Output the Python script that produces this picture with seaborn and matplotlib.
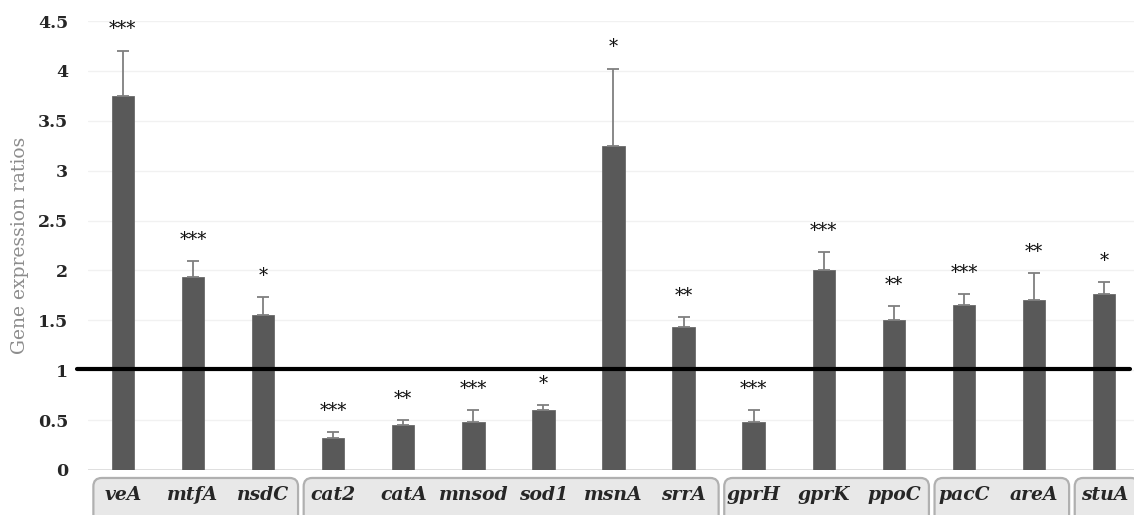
import numpy as np
import pandas as pd
import seaborn as sns
import matplotlib
matplotlib.use("Agg")
from matplotlib import pyplot as plt
from matplotlib.patches import FancyBboxPatch

# values
genes = ['veA', 'mtfA', 'nsdC', 'cat2', 'catA', 'mnsod', 'sod1', 'msnA', 'srrA',
         'gprH', 'gprK', 'ppoC', 'pacC', 'areA', 'stuA']
ratios = [3.75, 1.93, 1.55, 0.32, 0.45, 0.48, 0.60, 3.25, 1.43,
          0.48, 2.00, 1.50, 1.65, 1.70, 1.76]
errors = [0.45, 0.16, 0.18, 0.06, 0.05, 0.12, 0.05, 0.77, 0.10,
          0.12, 0.18, 0.14, 0.11, 0.27, 0.12]
stars = ['***', '***', '*', '***', '**', '***', '*', '*', '**',
         '***', '***', '**', '***', '**', '*']
# groups of genes shown in the boxes under the axis (first, last index)
groups = [(0, 2), (3, 8), (9, 11), (12, 13), (14, 14)]
yticks = [0, 0.5, 1, 1.5, 2, 2.5, 3, 3.5, 4, 4.5]

df = pd.DataFrame({'gene': genes, 'ratio': ratios})

sns.set_style('white')
plt.rcParams['font.family'] = ['DejaVu Serif', 'DejaVu Sans']

fig = plt.figure(figsize=(11.34, 5.15), dpi=100)
ax = fig.add_axes([0.0774, 0.0874, 0.9272, 0.8718])

sns.barplot(data=df, x='gene', y='ratio', order=genes, color='#595959',
            saturation=1, width=0.32, edgecolor='#6a6a6a', linewidth=0.6, ax=ax)

x = np.arange(len(genes))
ax.errorbar(x, ratios, yerr=[np.zeros(len(errors)), errors], fmt='none',
            ecolor='#7f7f7f', elinewidth=1.3, capsize=4.3, capthick=1.3, zorder=3)

# significance stars above the error bars
for xi, r, e, s in zip(x, ratios, errors, stars):
    ax.annotate(s, (xi, r + e), xytext=(0, 9), textcoords='offset points',
                ha='center', va='bottom', fontsize=13, color='#111111')

ax.set_xlim(-0.5, len(genes) - 0.5)
ax.set_ylim(0, 4.5)
ax.set_yticks(yticks)
ax.set_yticklabels([f'{t:g}' for t in yticks], fontsize=12.5, fontweight='bold')
ax.tick_params(axis='y', length=0, pad=14)
ax.tick_params(axis='x', length=0)
ax.set_xticklabels([])
ax.set_xlabel('')
ax.set_ylabel('Gene expression ratios', fontsize=13.5, color='#8c8c8c')
ax.yaxis.set_label_coords(-0.056, 0.5)

for t in yticks[1:]:
    ax.axhline(t, color='#f1f1f1', lw=1, zorder=0)
ax.axhline(0, color='#d9d9d9', lw=1.2, zorder=0)
for sp in ax.spines.values():
    sp.set_visible(False)

# threshold line at ratio 1
ax.plot([-0.65, 14.37], [1.01, 1.01], color='black', lw=3, clip_on=False, zorder=4)

# group boxes with gene names
for a, b in groups:
    box = FancyBboxPatch((a - 0.42, -0.6), (b - a) + 0.92, 0.52,
                         boxstyle='round,pad=0,rounding_size=0.12',
                         mutation_aspect=70.1 / 99.8,
                         facecolor='#e8e8e8', edgecolor='#b0b0b0', lw=1.6,
                         clip_on=False, transform=ax.transData, zorder=2)
    ax.add_patch(box)
for xi, g in zip(x, genes):
    ax.text(xi, -0.255, g, ha='center', va='center', fontsize=13.5,
            fontweight='bold', fontstyle='italic', clip_on=False)

fig.savefig('out.png', dpi=100)
